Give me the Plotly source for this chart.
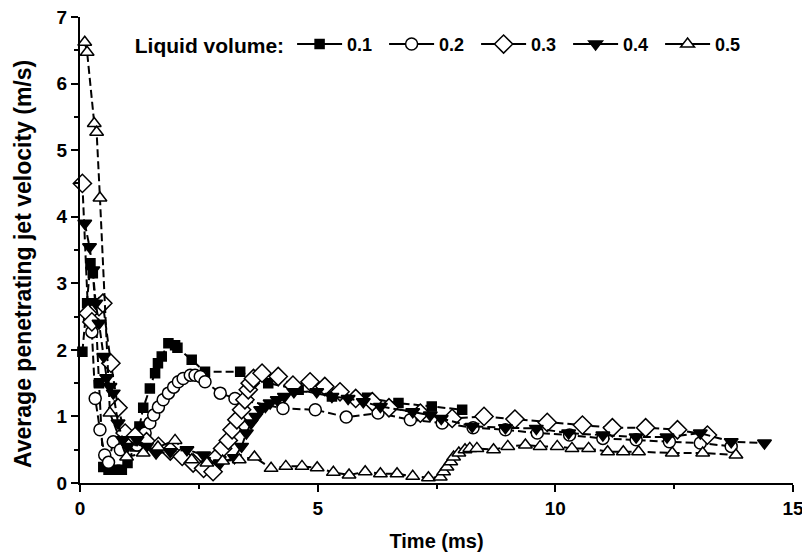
import plotly.graph_objects as go

# ---- data ----
t01 = [0.05, 0.15, 0.22, 0.27, 0.32, 0.4, 0.49, 0.6, 0.74, 0.88, 1.0, 1.15, 1.25, 1.33, 1.47, 1.58, 1.64, 1.72, 1.86, 2.0, 2.05, 2.35, 2.63, 3.37, 3.96, 4.6, 5.3, 6.04, 6.7, 7.4, 8.04]
v01 = [1.97, 2.7, 3.3, 3.15, 2.7, 1.5, 0.24, 0.2, 0.2, 0.2, 0.3, 0.55, 0.85, 1.13, 1.42, 1.65, 1.8, 1.9, 2.1, 2.07, 2.03, 1.85, 1.67, 1.67, 1.5, 1.4, 1.3, 1.28, 1.2, 1.15, 1.1]

t02 = [0.2, 0.25, 0.32, 0.42, 0.52, 0.6, 0.7, 0.85, 1.0, 1.2, 1.3, 1.37, 1.47, 1.55, 1.65, 1.75, 1.86, 1.97, 2.07, 2.17, 2.32, 2.42, 2.53, 2.63, 2.95, 3.26, 4.27, 4.95, 5.6, 6.27, 6.95, 7.62, 8.27, 8.95, 9.62, 10.3, 11.0, 11.7, 12.4, 13.05, 13.7]
v02 = [2.45, 2.27, 1.27, 0.8, 0.42, 0.31, 0.62, 0.5, 0.6, 0.57, 0.65, 0.75, 0.9, 1.02, 1.14, 1.25, 1.35, 1.44, 1.52, 1.57, 1.62, 1.62, 1.6, 1.52, 1.35, 1.27, 1.12, 1.1, 0.99, 1.05, 0.95, 0.9, 0.83, 0.8, 0.75, 0.72, 0.67, 0.65, 0.62, 0.6, 0.55]

t03 = [0.05, 0.17, 0.25, 0.4, 0.48, 0.65, 0.8, 0.95, 1.16, 1.4, 1.65, 1.9, 2.15, 2.38, 2.6, 2.8, 2.88, 3.0, 3.12, 3.2, 3.3, 3.4, 3.47, 3.54, 3.58, 3.65, 3.83, 4.17, 4.48, 4.84, 5.15, 5.47, 5.8, 6.15, 6.5, 7.16, 7.83, 8.5, 9.15, 9.83, 10.57, 11.2, 11.9, 12.57, 13.2]
v03 = [4.5, 2.55, 2.42, 2.65, 2.7, 1.8, 1.13, 0.75, 0.7, 0.62, 0.55, 0.48, 0.4, 0.3, 0.22, 0.17, 0.39, 0.52, 0.64, 0.8, 0.95, 1.1, 1.25, 1.4, 1.5, 1.57, 1.65, 1.6, 1.47, 1.52, 1.45, 1.37, 1.27, 1.22, 1.13, 1.05, 0.97, 1.0, 0.96, 0.91, 0.87, 0.83, 0.83, 0.8, 0.72]

t04 = [0.1, 0.2, 0.27, 0.33, 0.4, 0.5, 0.56, 0.63, 0.7, 0.8, 0.9, 1.0, 1.2, 1.4, 1.6, 1.9, 2.25, 2.6, 2.95, 3.25, 3.4, 3.5, 3.6, 3.7, 3.8, 3.9, 4.0, 4.15, 4.3, 4.5, 4.98, 5.3, 5.64, 5.96, 6.32, 7.0, 7.37, 7.6, 8.25, 8.95, 9.6, 10.28, 11.0, 11.7, 12.35, 13.05, 13.7, 14.4]
v04 = [3.9, 3.55, 3.2, 2.7, 2.4, 1.9, 1.58, 1.45, 1.35, 0.9, 0.65, 0.55, 0.65, 0.55, 0.45, 0.47, 0.5, 0.42, 0.3, 0.38, 0.55, 0.75, 0.9, 1.0, 1.1, 1.15, 1.2, 1.25, 1.3, 1.37, 1.37, 1.3, 1.27, 1.22, 1.15, 1.07, 1.02, 0.97, 0.85, 0.83, 0.82, 0.75, 0.72, 0.69, 0.69, 0.75, 0.62, 0.6]

t05 = [0.1, 0.15, 0.3, 0.35, 0.42, 0.63, 0.98, 1.33, 1.64, 2.0, 2.35, 2.67, 3.0, 3.35, 3.67, 4.02, 4.33, 4.67, 4.99, 5.33, 5.66, 6.0, 6.32, 6.67, 7.0, 7.33, 7.58, 7.65, 7.72, 7.8, 7.86, 7.97, 8.1, 8.2, 8.35, 8.7, 9.0, 9.37, 9.68, 10.04, 10.35, 10.7, 11.1, 11.43, 11.75, 12.46, 13.1, 13.8]
v05 = [6.62, 6.47, 5.4, 5.27, 4.28, 1.05, 0.39, 0.45, 0.54, 0.64, 0.35, 0.3, 0.33, 0.35, 0.39, 0.22, 0.25, 0.25, 0.23, 0.16, 0.12, 0.17, 0.14, 0.14, 0.1, 0.08, 0.09, 0.17, 0.24, 0.32, 0.39, 0.45, 0.5, 0.52, 0.52, 0.5, 0.55, 0.57, 0.55, 0.55, 0.52, 0.52, 0.47, 0.47, 0.47, 0.45, 0.45, 0.42]

series_names = ["0.1", "0.2", "0.3", "0.4", "0.5"]
x_ticks = [0, 5, 10, 15]
y_ticks = [0, 1, 2, 3, 4, 5, 6, 7]

styles = [
    dict(symbol="square", color="black", size=9),
    dict(symbol="circle", color="white", size=12),
    dict(symbol="diamond", color="white", size=14),
    dict(symbol="triangle-down", color="black", size=12),
    dict(symbol="triangle-up", color="white", size=12),
]

fig = go.Figure()
for name, tx, vy, st in zip(series_names, [t01, t02, t03, t04, t05], [v01, v02, v03, v04, v05], styles):
    mk = dict(symbol=st["symbol"], color=st["color"], size=st["size"],
              line=dict(color="black", width=1.5))
    fig.add_trace(go.Scatter(
        x=tx, y=vy, name=name, mode="lines+markers", legendgroup=name, showlegend=False,
        line=dict(color="black", width=2, dash="8px,4px"),
        marker=mk, cliponaxis=False,
    ))
    # legend entry: solid line segment with marker, as in the original key
    fig.add_trace(go.Scatter(
        x=[None], y=[None], name=name, mode="lines+markers", legendgroup=name,
        line=dict(color="black", width=2), marker=mk,
    ))

font_fam = "Arial, Liberation Sans, sans-serif"
fig.update_layout(
    width=810, height=558,
    margin=dict(l=72, r=25, t=9, b=83),
    paper_bgcolor="white", plot_bgcolor="white",
    font=dict(family=font_fam, color="black"),
    legend=dict(
        orientation="h", x=0.074, y=0.981, xanchor="left", yanchor="top",
        title=dict(text="Liquid volume:", font=dict(size=21, weight="bold")),
        font=dict(size=18, weight="bold"),
        bgcolor="rgba(0,0,0,0)", itemwidth=45, entrywidth=32, tracegroupgap=0,
    ),
    showlegend=True,
    annotations=[dict(
        text="Average penetrating jet velocity (m/s)", textangle=-90,
        xref="paper", yref="paper", x=0, y=0.47, xanchor="center", yanchor="middle",
        xshift=-57, showarrow=False, font=dict(size=23, weight="bold"),
    )],
)
fig.update_xaxes(
    range=[0, 15], tickvals=x_ticks, ticktext=[str(v) for v in x_ticks],
    showline=True, linecolor="black", linewidth=2, mirror=False,
    ticks="outside", ticklen=7, tickwidth=2, tickcolor="black",
    minor=dict(dtick=2.5, ticklen=4, tickwidth=2, tickcolor="black", ticks="outside"),
    showgrid=False, zeroline=False, automargin=False, ticklabeloverflow="allow",
    tickfont=dict(size=19, weight="bold"),
    title=dict(text="Time (ms)", font=dict(size=20, weight="bold"), standoff=16),
)
fig.update_yaxes(
    range=[0, 7], tickvals=y_ticks, ticktext=[str(v) for v in y_ticks],
    showline=True, linecolor="black", linewidth=2, mirror=False,
    ticks="outside", ticklen=7, tickwidth=2, tickcolor="black",
    minor=dict(dtick=0.5, ticklen=4, tickwidth=2, tickcolor="black", ticks="outside"),
    showgrid=False, zeroline=False, automargin=False, ticklabeloverflow="allow",
    tickfont=dict(size=19, weight="bold"),
)
fig.write_html("out.html")
